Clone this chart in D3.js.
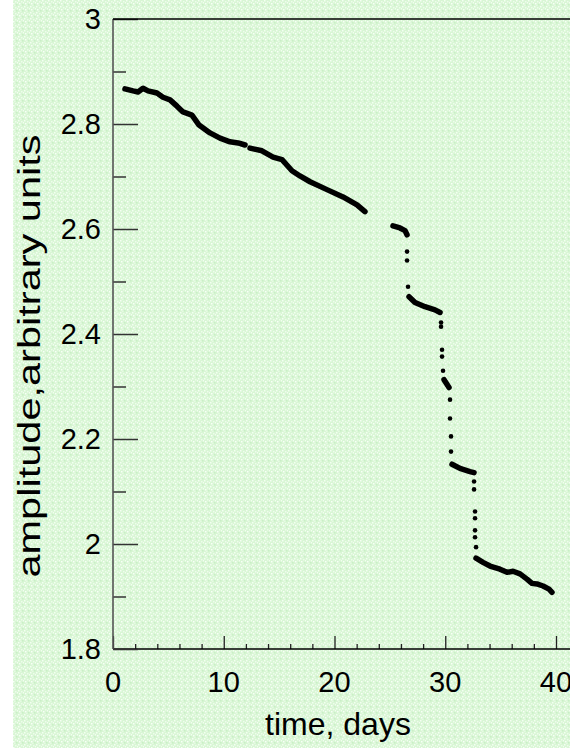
<!DOCTYPE html>
<html>
<head>
<meta charset="utf-8">
<script src="https://cdn.jsdelivr.net/npm/d3@7"></script>
<style>
  html, body { margin: 0; padding: 0; background: #fff; }
  svg { display: block; }
  text { font-family: "Liberation Sans", Arial, sans-serif; fill: #000; }
</style>
</head>
<body>
<svg id="chart"></svg>
<script>
// dense runs of the measurement, [day, amplitude]
const run1 = [[1.08, 2.867], [1.81, 2.863], [2.26, 2.861], [2.71, 2.868], [3.16, 2.863], [3.97, 2.859],
  [4.51, 2.851], [5.15, 2.846], [5.78, 2.834], [6.32, 2.823], [7.13, 2.817], [7.77, 2.798],
  [8.76, 2.783], [9.66, 2.773], [10.56, 2.766], [11.3, 2.764], [11.92, 2.760]];
const run2 = [[12.37, 2.754], [13.45, 2.749], [14.45, 2.737], [15.26, 2.732], [16.16, 2.711],
  [16.88, 2.701], [17.79, 2.690], [19.32, 2.675], [20.77, 2.661], [22.03, 2.646], [22.75, 2.633]];
const run3 = [[25.28, 2.606], [25.91, 2.602], [26.37, 2.597], [26.55, 2.589]];
const run4 = [[26.73, 2.471], [27.27, 2.460], [28.17, 2.452], [29.07, 2.446], [29.53, 2.441]];
const run5 = [[29.89, 2.313], [30.34, 2.298]];
const run6 = [[30.61, 2.152], [31.33, 2.144], [32.23, 2.138], [32.6, 2.136]];
const run7 = [[32.78, 1.973], [33.41, 1.965], [34.04, 1.958], [34.94, 1.952], [35.58, 1.946],
  [36.12, 1.948], [36.75, 1.943], [37.38, 1.933], [37.83, 1.925], [38.28, 1.924], [38.83, 1.920],
  [39.37, 1.914], [39.64, 1.908]];
// single points on the jumps
const jumpPoints = [[26.55, 2.557], [26.55, 2.540], [26.64, 2.490],
  [29.62, 2.422], [29.62, 2.414], [29.71, 2.370], [29.71, 2.357], [29.80, 2.330],
  [30.43, 2.275], [30.43, 2.239], [30.52, 2.205], [30.52, 2.176],
  [32.6, 2.119], [32.6, 2.104], [32.69, 2.062], [32.69, 2.049], [32.69, 2.026], [32.69, 2.013], [32.78, 1.994]];

const xTicks = [0, 10, 20, 30, 40];
const yTicks = [1.8, 2, 2.2, 2.4, 2.6, 2.8, 3];
const yTickLabels = ["1.8", "2", "2.2", "2.4", "2.6", "2.8", "3"];
const xTitle = "time, days";
const yTitle = "amplitude,arbitrary units";

const width = 570, height = 748;
const svg = d3.select("#chart").attr("width", width).attr("height", height);

// speckled pale green backdrop
const defs = svg.append("defs");
const pat = defs.append("pattern").attr("id", "speckle")
  .attr("width", 6).attr("height", 6).attr("patternUnits", "userSpaceOnUse");
pat.append("rect").attr("width", 6).attr("height", 6).attr("fill", "#d9f6d5");
[[0, 0, "#f4fff2"], [3, 1, "#eefcec"], [1, 3, "#f8fff7"], [4, 4, "#c9efc6"], [5, 2, "#f2fff0"], [2, 5, "#e6fae3"]]
  .forEach(([x, y, c]) => pat.append("rect").attr("x", x).attr("y", y)
    .attr("width", 1.5).attr("height", 1.5).attr("fill", c));
svg.append("rect").attr("x", 13).attr("y", 0).attr("width", width - 13).attr("height", height)
  .attr("fill", "url(#speckle)");

const x = d3.scaleLinear().domain([0, 40]).range([113, 556]);
const y = d3.scaleLinear().domain([1.8, 3]).range([649, 19]);

// x axis with inward ticks
svg.append("g")
  .attr("transform", `translate(0,${y(1.8)})`)
  .call(d3.axisTop(x).tickValues(d3.range(0, 41, 2)).tickSize(5).tickFormat(""))
  .call(g => g.select(".domain").remove())
  .call(g => g.selectAll(".tick line").attr("stroke", "#222").attr("stroke-width", 1.3)
    .attr("y2", d => (d % 10 === 0 ? -13 : -5)));
svg.append("line").attr("x1", 113).attr("x2", width).attr("y1", y(1.8)).attr("y2", y(1.8))
  .attr("stroke", "#000").attr("stroke-width", 1.6);

// y axis with inward ticks
svg.append("g")
  .attr("transform", `translate(${x(0)},0)`)
  .call(d3.axisRight(y).tickValues(d3.range(18, 31).map(v => v / 10)).tickFormat(""))
  .call(g => g.select(".domain").remove())
  .call(g => g.selectAll(".tick line").attr("stroke", "#333").attr("stroke-width", 1.5)
    .attr("x2", (d, i) => (i % 2 === 0 ? 25 : 13)));
svg.append("line").attr("x1", x(0)).attr("x2", x(0)).attr("y1", y(3)).attr("y2", y(1.8))
  .attr("stroke", "#555").attr("stroke-width", 1.6);
// top frame
svg.append("line").attr("x1", x(0)).attr("x2", width).attr("y1", y(3)).attr("y2", y(3))
  .attr("stroke", "#000").attr("stroke-width", 1.6);

// tick labels
svg.selectAll(".ylab").data(yTicks).join("text")
  .attr("class", "ylab")
  .attr("x", 101).attr("y", d => y(d) + 10)
  .attr("text-anchor", "end").attr("font-size", 29)
  .text((d, i) => yTickLabels[i]);
svg.selectAll(".xlab").data(xTicks).join("text")
  .attr("class", "xlab")
  .attr("x", d => x(d)).attr("y", 692)
  .attr("text-anchor", "middle").attr("font-size", 29)
  .text(d => d);

svg.append("text").attr("x", 338).attr("y", 735).attr("text-anchor", "middle")
  .attr("font-size", 32).text(xTitle);
// the axis title in the original is drawn stretched along its length
svg.append("text").attr("transform", "translate(40,356) rotate(-90) scale(1.34,1)")
  .attr("text-anchor", "middle").attr("font-size", 31).text(yTitle);

// data
const line = d3.line().x(d => x(d[0])).y(d => y(d[1]));
const runs = [run1, run2, run3, run4, run5, run6, run7];
svg.append("g").selectAll("path").data(runs).join("path")
  .attr("d", line).attr("fill", "none").attr("stroke", "#000")
  .attr("stroke-width", 5.5).attr("stroke-linecap", "round").attr("stroke-linejoin", "round");
svg.append("g").selectAll("circle").data(jumpPoints).join("circle")
  .attr("cx", d => x(d[0])).attr("cy", d => y(d[1])).attr("r", 2.3).attr("fill", "#000");
</script>
</body>
</html>
